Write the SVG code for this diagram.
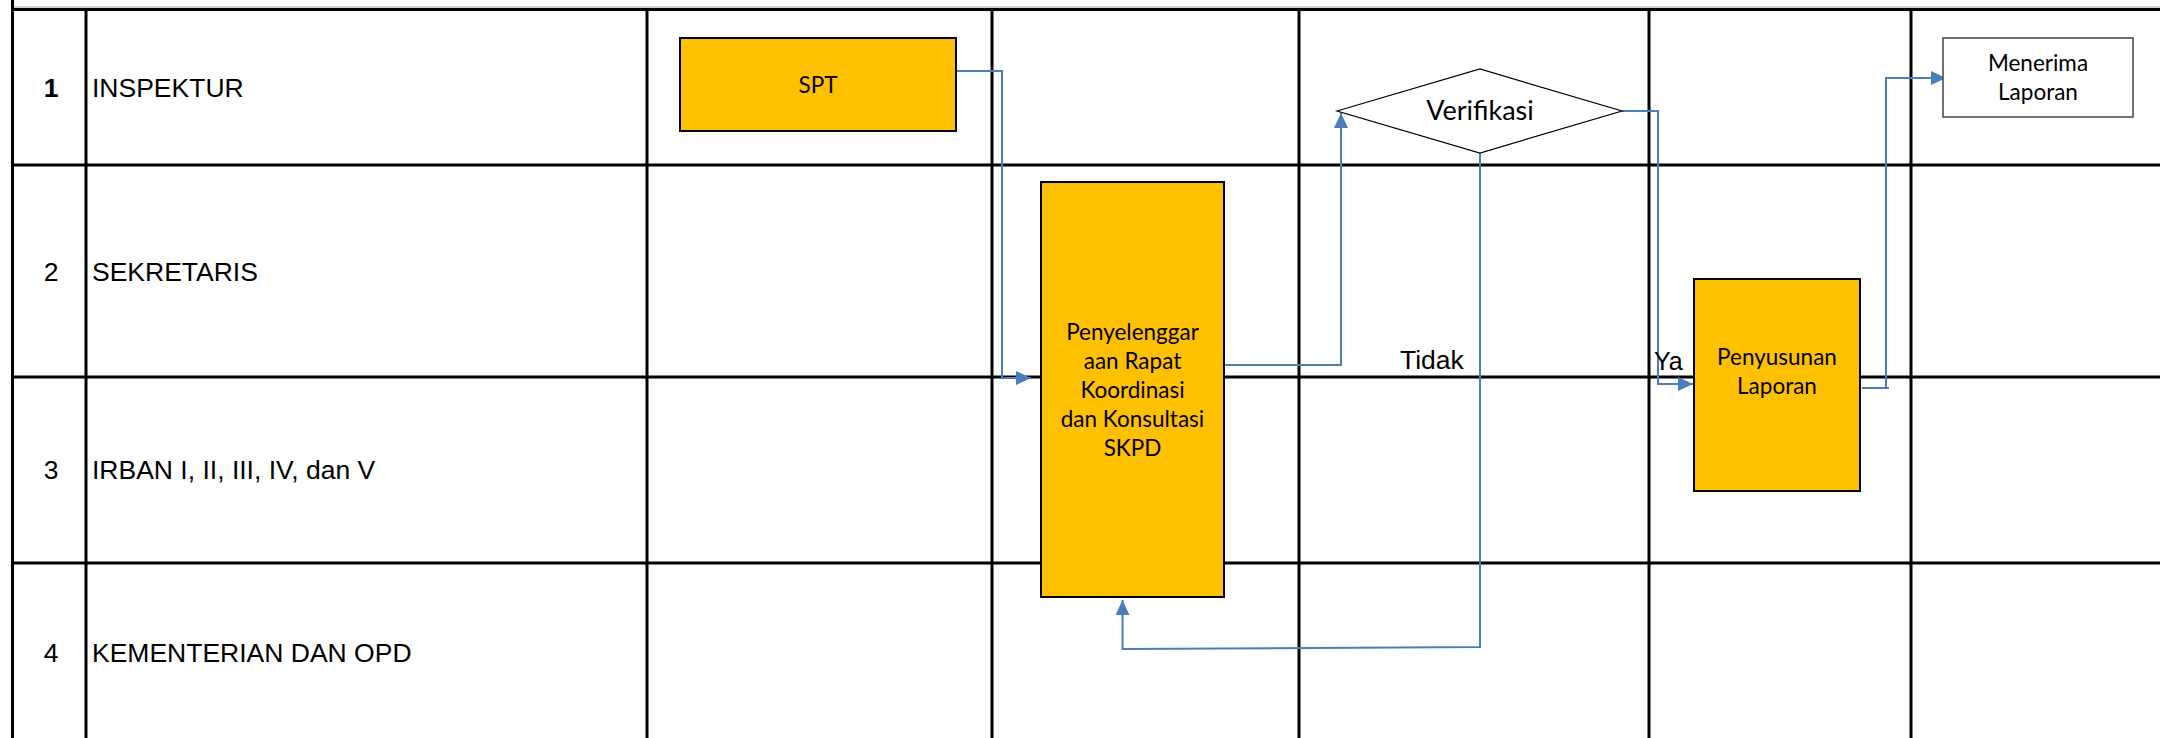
<svg xmlns="http://www.w3.org/2000/svg" width="2160" height="738" viewBox="0 0 2160 738">
<defs>
<style>
.grid{stroke:#000;stroke-width:3;fill:none}
.lbl{font-family:"Liberation Sans",Arial,sans-serif;font-size:26.5px;fill:#000}
.num{font-family:"Liberation Sans",Arial,sans-serif;font-size:26.5px;fill:#000;text-anchor:middle}
.box{fill:#FFC000;stroke:#000;stroke-width:2}
.wbox{fill:#fff;stroke:#444;stroke-width:1.5}
.bt{font-family:Lato,"Open Sans",sans-serif;font-size:22.5px;fill:#000;text-anchor:middle}
.con{fill:none;stroke:#4A7EBB;stroke-width:2;marker-end:url(#arr)}
.conn{fill:none;stroke:#4A7EBB;stroke-width:2}
.cl{font-family:"Liberation Sans",Arial,sans-serif;font-size:25px;fill:#000}
</style>
<marker id="arr" markerUnits="userSpaceOnUse" markerWidth="16" markerHeight="16" refX="15" refY="7" orient="auto">
<path d="M0,0 L15,7 L0,14 z" fill="#4A7EBB"/>
</marker>
</defs>
<rect width="2160" height="738" fill="#fff"/>
<g id="grid">
<line x1="11" y1="7" x2="2160" y2="7" stroke="#BFBFBF" stroke-width="1.5"/>
<line class="grid" x1="11" y1="9.5" x2="2160" y2="9.5"/>
<line class="grid" x1="11" y1="165" x2="2160" y2="165"/>
<line class="grid" x1="11" y1="377" x2="2160" y2="377"/>
<line class="grid" x1="11" y1="563" x2="2160" y2="563"/>
<line class="grid" x1="12.5" y1="0" x2="12.5" y2="738"/>
<line class="grid" x1="86" y1="9.5" x2="86" y2="738"/>
<line class="grid" x1="647" y1="9.5" x2="647" y2="738"/>
<line class="grid" x1="992" y1="9.5" x2="992" y2="738"/>
<line class="grid" x1="1299" y1="9.5" x2="1299" y2="738"/>
<line class="grid" x1="1649" y1="9.5" x2="1649" y2="738"/>
<line class="grid" x1="1911" y1="9.5" x2="1911" y2="738"/>
</g>
<g id="rows">
<text class="num" x="51" y="97" style="font-weight:bold">1</text>
<text class="lbl" x="92" y="97">INSPEKTUR</text>
<text class="num" x="51" y="281">2</text>
<text class="lbl" x="92" y="281">SEKRETARIS</text>
<text class="num" x="51" y="479">3</text>
<text class="lbl" x="92" y="479">IRBAN I, II, III, IV, dan V</text>
<text class="num" x="51" y="662">4</text>
<text class="lbl" x="92" y="662">KEMENTERIAN DAN OPD</text>
</g>
<g id="connectors">
<path class="con" d="M956,71 H1002 V378 H1031"/>
<path class="con" d="M1224,365 H1341 V113"/>
<path class="con" d="M1622,111 H1658 V384 H1693"/>
<path class="con" d="M1480,153 V647 L1122.5,649 V600"/>
<path class="conn" d="M1862,388 H1889"/>
<path class="con" d="M1886,389 V78 H1946"/>
<text class="cl" x="1400" y="369" style="font-size:26.5px">Tidak</text>
<text class="cl" x="1654" y="370">Ya</text>
</g>
<g id="spt">
<rect class="box" x="680" y="38" width="276" height="93"/>
<text class="bt" x="818" y="93">SPT</text>
</g>
<g id="rapat">
<rect class="box" x="1041" y="182" width="183" height="415"/>
<text class="bt" x="1132.5" y="340">Penyelenggar</text>
<text class="bt" x="1132.5" y="369">aan Rapat</text>
<text class="bt" x="1132.5" y="398">Koordinasi</text>
<text class="bt" x="1132.5" y="427">dan Konsultasi</text>
<text class="bt" x="1132.5" y="456">SKPD</text>
</g>
<g id="verifikasi">
<polygon points="1337,111 1480,69 1622,111 1480,153" fill="#fff" stroke="#000" stroke-width="1.2"/>
<text class="bt" x="1480" y="120" style="font-size:27px">Verifikasi</text>
</g>
<g id="penyusunan">
<rect class="box" x="1694" y="279" width="166" height="212"/>
<text class="bt" x="1777" y="365">Penyusunan</text>
<text class="bt" x="1777" y="394">Laporan</text>
</g>
<g id="menerima">
<rect class="wbox" x="1943" y="38" width="190" height="79"/>
<text class="bt" x="2038" y="71">Menerima</text>
<text class="bt" x="2038" y="100">Laporan</text>
</g>
</svg>
